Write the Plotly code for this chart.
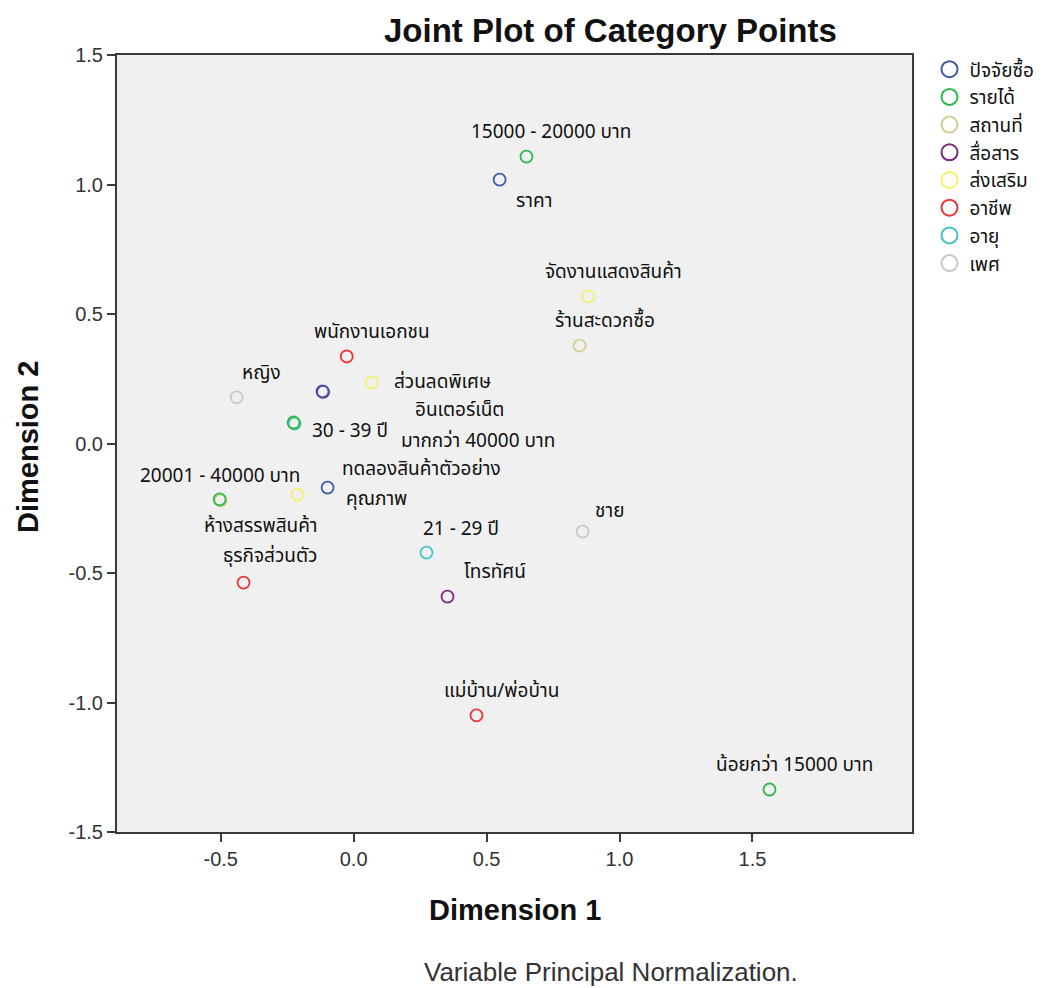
import plotly.graph_objects as go

# ---- data ----
groups = ["ปัจจัยซื้อ", "รายได้", "สถานที่", "สื่อสาร", "ส่งเสริม", "อาชีพ", "อายุ", "เพศ"]
group_colors = ["#3E58AC", "#2EB848", "#D3CE97", "#7C287D", "#F3F06A", "#EF3338", "#48C2C5", "#C8C8C8"]

point_labels = [
    "ราคา", "", "คุณภาพ",
    "15000 - 20000 บาท", "มากกว่า 40000 บาท", "20001 - 40000 บาท", "น้อยกว่า 15000 บาท",
    "ร้านสะดวกซื้อ", "ห้างสรรพสินค้า",
    "อินเตอร์เน็ต", "โทรทัศน์",
    "จัดงานแสดงสินค้า", "ส่วนลดพิเศษ", "ทดลองสินค้าตัวอย่าง",
    "พนักงานเอกชน", "ธุรกิจส่วนตัว", "แม่บ้าน/พ่อบ้าน",
    "30 - 39 ปี", "21 - 29 ปี",
    "หญิง", "ชาย",
]
point_group = [
    "ปัจจัยซื้อ", "ปัจจัยซื้อ", "ปัจจัยซื้อ",
    "รายได้", "รายได้", "รายได้", "รายได้",
    "สถานที่", "สถานที่",
    "สื่อสาร", "สื่อสาร",
    "ส่งเสริม", "ส่งเสริม", "ส่งเสริม",
    "อาชีพ", "อาชีพ", "อาชีพ",
    "อายุ", "อายุ",
    "เพศ", "เพศ",
]
dim1 = [0.549, -0.117, -0.098,
        0.650, -0.226, -0.504, 1.564,
        0.850, -0.500,
        -0.115, 0.353,
        0.883, 0.068, -0.211,
        -0.026, -0.414, 0.462,
        -0.222, 0.274,
        -0.440, 0.861]
dim2 = [1.019, 0.201, -0.170,
        1.108, 0.081, -0.216, -1.336,
        0.378, -0.220,
        0.199, -0.591,
        0.568, 0.236, -0.197,
        0.336, -0.537, -1.050,
        0.077, -0.421,
        0.178, -0.340]

x_ticks = [-0.5, 0.0, 0.5, 1.0, 1.5]
y_ticks = [-1.5, -1.0, -0.5, 0.0, 0.5, 1.0, 1.5]

# ---- label placement (pixel offsets, layout only) ----
default_shift = (25, 24)
label_shift = {
    "ราคา": (34, -22),
    "คุณภาพ": (49, -12),
    "มากกว่า 40000 บาท": (184, -19),
    "20001 - 40000 บาท": (0, 23),
    "ห้างสรรพสินค้า": (40, -26),
    "อินเตอร์เน็ต": (136, -19),
    "ส่วนลดพิเศษ": (71, 0),
    "ทดลองสินค้าตัวอย่าง": (124, 25),
    "30 - 39 ปี": (55, -8),
    "ธุรกิจส่วนตัว": (26, 26),
    "21 - 29 ปี": (35, 23),
    "โทรทัศน์": (47, 24),
    "ชาย": (27, 20),
}

THAI = "Noto Sans Thai, Loma, Garuda, Tlwg Typo, Liberation Sans, DejaVu Sans, sans-serif"
SANS = "Liberation Sans, Arial, sans-serif"

fig = go.Figure()

# plotted points (drawing order chosen so overlapping categories match the reference)
draw_order = ["อายุ", "สถานที่", "ส่งเสริม", "เพศ", "สื่อสาร", "ปัจจัยซื้อ", "อาชีพ", "รายได้"]
for g in draw_order:
    gi = groups.index(g)
    idx = [i for i, pg in enumerate(point_group) if pg == g]
    fig.add_trace(go.Scatter(
        x=[dim1[i] for i in idx], y=[dim2[i] for i in idx],
        mode="markers", name=g, showlegend=False,
        marker=dict(symbol="circle-open", size=12, color=group_colors[gi],
                    line=dict(width=1.8, color=group_colors[gi])),
        hovertext=[point_labels[i] for i in idx],
    ))

# legend entries (larger symbols, as in the reference legend)
for gi, g in enumerate(groups):
    fig.add_trace(go.Scatter(
        x=[None], y=[None], mode="markers", name=g, showlegend=True,
        marker=dict(symbol="circle-open", size=16, color=group_colors[gi],
                    line=dict(width=2, color=group_colors[gi])),
    ))

annotations = []
for lab, xv, yv in zip(point_labels, dim1, dim2):
    if not lab:
        continue
    dx, dy = label_shift.get(lab, default_shift)
    annotations.append(dict(x=xv, y=yv, xref="x", yref="y", text=lab, showarrow=False,
                            xshift=dx, yshift=dy, font=dict(family=THAI, size=19, color="#111")))

annotations += [
    dict(text="<b>Joint Plot of Category Points</b>", x=0.621, y=1.031, xref="paper", yref="paper",
         showarrow=False, yanchor="middle", font=dict(family=SANS, size=33, color="#111")),
    dict(text="<b>Dimension 1</b>", x=0.5, y=-0.1004, xref="paper", yref="paper", showarrow=False,
         yanchor="middle", font=dict(family=SANS, size=29, color="#111")),
    dict(text="<b>Dimension 2</b>", x=-0.112, y=0.4955, xref="paper", yref="paper", showarrow=False,
         textangle=-90, xanchor="center", yanchor="middle", font=dict(family=SANS, size=29, color="#111")),
    dict(text="Variable Principal Normalization.", x=0.621, y=-0.180, xref="paper", yref="paper",
         showarrow=False, yanchor="middle", font=dict(family=SANS, size=26, color="#333")),
]

axis_common = dict(showgrid=False, zeroline=False, showline=True, mirror=True,
                   linecolor="#3a3a3a", linewidth=2, ticks="outside", ticklen=8,
                   tickcolor="#3a3a3a", tickwidth=2,
                   tickfont=dict(family=SANS, size=20, color="#333"))

fig.update_layout(
    width=1053, height=988,
    margin=dict(l=117, r=141, t=55, b=156),
    paper_bgcolor="white", plot_bgcolor="#F0F0F0",
    xaxis=dict(range=[-0.89, 2.1], tickvals=x_ticks, ticktext=[f"{v:.1f}" for v in x_ticks], **axis_common),
    yaxis=dict(range=[-1.5, 1.5], tickvals=y_ticks, ticktext=[f"{v:.1f}" for v in y_ticks], **axis_common),
    legend=dict(x=1.022, y=1.006, xanchor="left", yanchor="top", bgcolor="rgba(0,0,0,0)",
                font=dict(family=THAI, size=19, color="#111"), itemsizing="trace",
                tracegroupgap=0),
    annotations=annotations,
    showlegend=True,
)

fig.write_html("out.html")
